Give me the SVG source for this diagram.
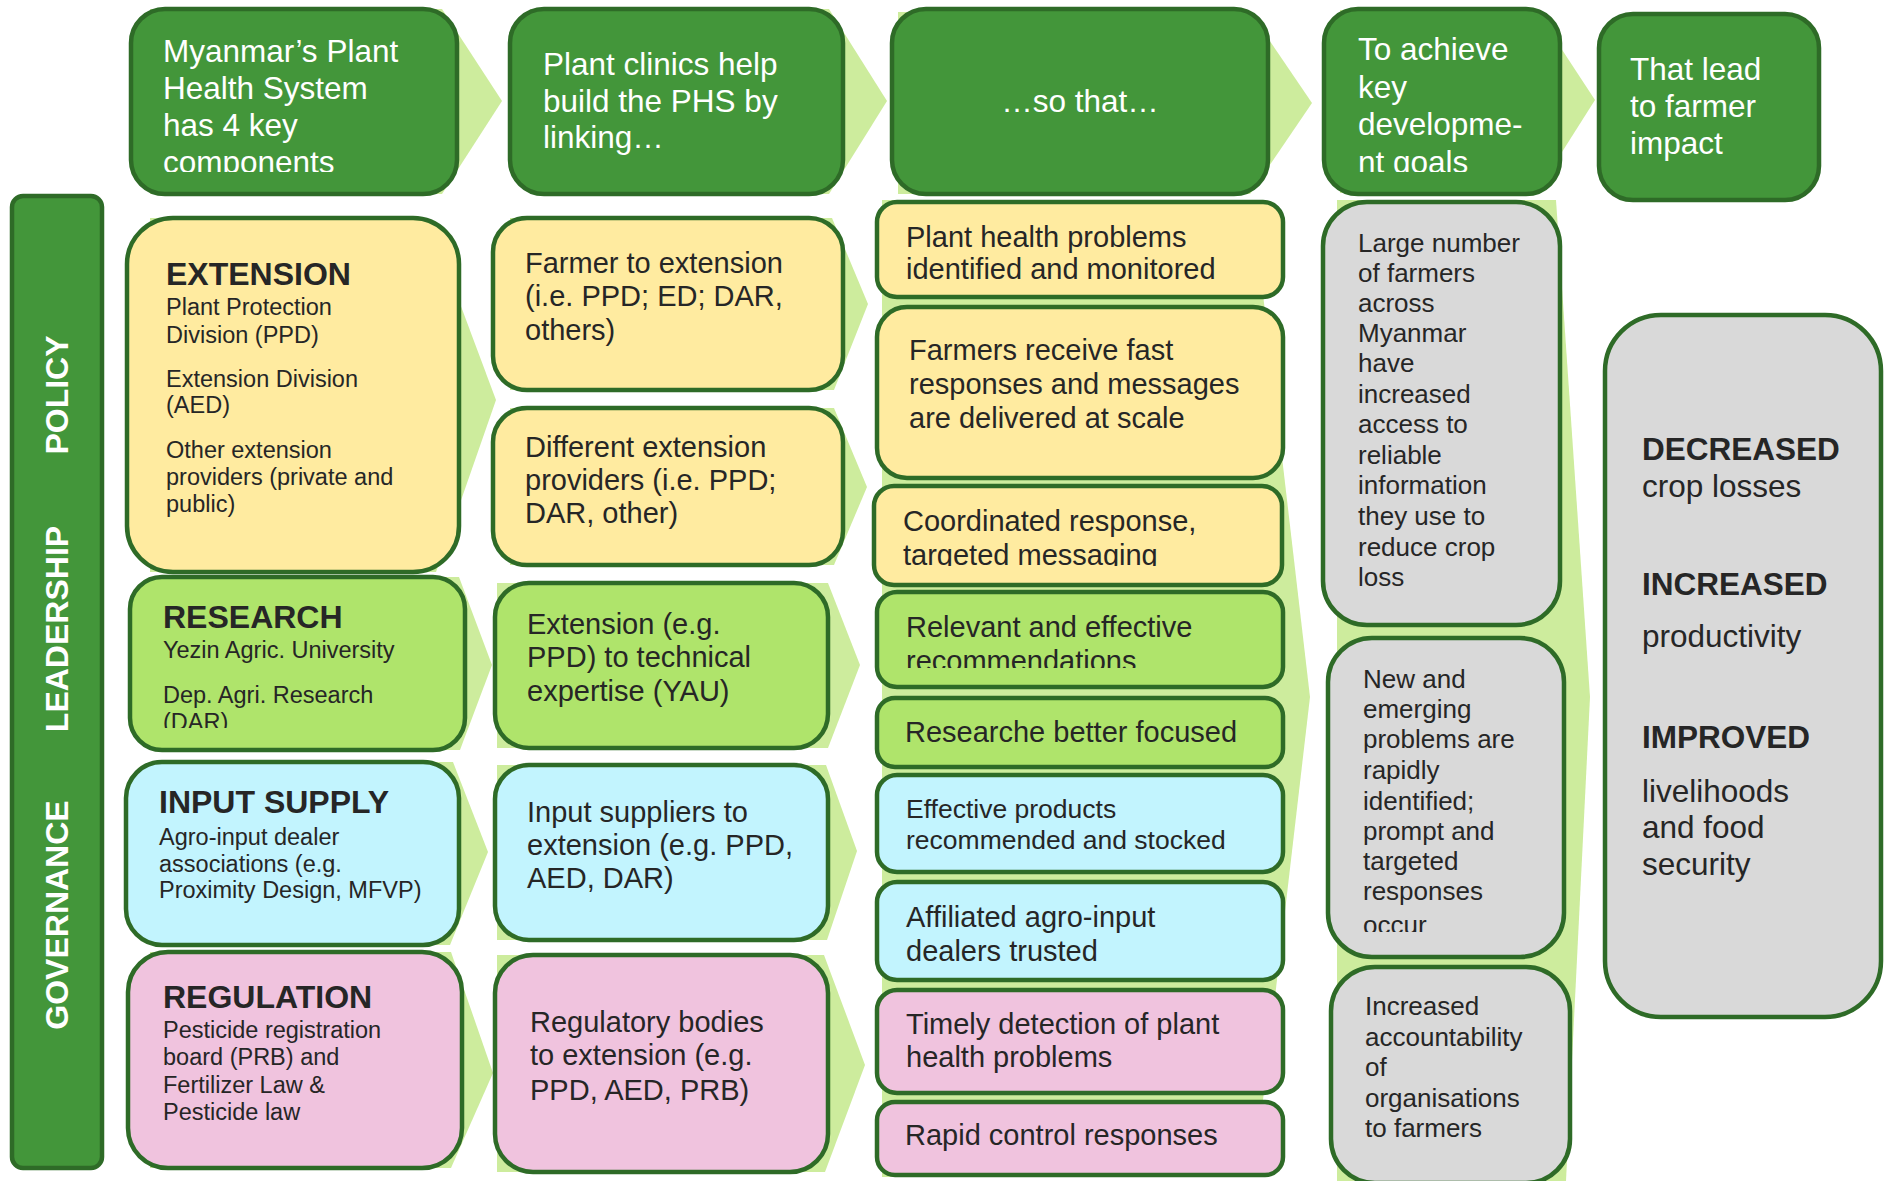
<svg xmlns="http://www.w3.org/2000/svg" width="1892" height="1181" viewBox="0 0 1892 1181">
<style>
text{font-family:"Liberation Sans",Arial,sans-serif;}
.chev{fill:#CDEC9D;}
.bx{stroke:#2E6B27;stroke-width:4.5;}
.hdr{fill:#43963A;}
.bar{fill:#43963A;}
.yel{fill:#FFEBA0;}
.lg{fill:#AFE46B;}
.cy{fill:#C2F4FE;}
.pk{fill:#F0C3DE;}
.gr{fill:#D9D9D9;}
.w{fill:#FFFFFF;font-size:31.5px;}
.vt{fill:#FFFFFF;font-size:32px;font-weight:bold;}
.b{fill:#262626;font-size:32px;font-weight:bold;}
.s{fill:#262626;font-size:23.5px;}
.m{fill:#262626;font-size:29px;}
.g{fill:#262626;font-size:26px;}
.ob{fill:#262626;font-size:31.5px;font-weight:bold;}
.or{fill:#262626;font-size:31.5px;}
</style>
<defs>
<clipPath id="cH1"><rect x="131" y="9" width="326" height="163"/></clipPath>
<clipPath id="cH4"><rect x="1324" y="9" width="236" height="163"/></clipPath>
<clipPath id="cRes"><rect x="130" y="577" width="335" height="151"/></clipPath>
<clipPath id="cCoord"><rect x="874" y="486" width="408" height="80"/></clipPath>
<clipPath id="cRel"><rect x="877" y="592" width="406" height="76"/></clipPath>
<clipPath id="cNew"><rect x="1328" y="638" width="236" height="294"/></clipPath>
</defs>

<g id="connectors">
<polygon class="chev" points="150,9 442,9 502,101 442,194 150,194"/>
<polygon class="chev" points="530,9 829,9 887,101 829,194 530,194"/>
<polygon class="chev" points="898,12 1250,12 1312,103 1250,194 898,194"/>
<polygon class="chev" points="1340,10 1536,10 1595,100 1536,193 1340,193"/>
<polygon class="chev" points="150,218 428,218 496,400 436,572 150,572"/>
<polygon class="chev" points="150,577 459,577 492,665 460,750 150,750"/>
<polygon class="chev" points="150,762 453,762 488,852 450,945 150,945"/>
<polygon class="chev" points="150,952 451,952 493,1073 451,1168 150,1168"/>
<polygon class="chev" points="510,218 832,218 868,304 834,390 510,390"/>
<polygon class="chev" points="510,408 834,408 867,487 834,565 510,565"/>
<polygon class="chev" points="497,583 828,583 860,665 828,748 497,748"/>
<polygon class="chev" points="497,765 826,765 857,851 827,940 497,940"/>
<polygon class="chev" points="497,955 824,955 865,1065 825,1172 497,1172"/>
<polygon class="chev" points="882,200 1252,200 1310,697 1254,1177 882,1177"/>
<polygon class="chev" points="1337,200 1556,200 1590,697 1566,1181 1337,1181"/>
</g>

<g id="bar">
<rect class="bx bar" x="12" y="196" width="90" height="972" rx="11"/>
<text class="vt" transform="translate(68,395) rotate(-90)" text-anchor="middle">POLICY</text>
<text class="vt" transform="translate(68,629) rotate(-90)" text-anchor="middle">LEADERSHIP</text>
<text class="vt" transform="translate(68,915) rotate(-90)" text-anchor="middle">GOVERNANCE</text>
</g>

<g id="h1">
<rect class="bx hdr" x="131" y="9" width="326" height="185" rx="34"/>
<g clip-path="url(#cH1)">
<text class="w" x="163" y="62">Myanmar’s Plant</text>
<text class="w" x="163" y="99">Health System</text>
<text class="w" x="163" y="136">has 4 key</text>
<text class="w" x="163" y="173">components</text>
</g>
</g>
<g id="h2">
<rect class="bx hdr" x="510" y="9" width="333" height="185" rx="34"/>
<text class="w" x="543" y="75">Plant clinics help</text>
<text class="w" x="543" y="112">build the PHS by</text>
<text class="w" x="543" y="148">linking…</text>
</g>
<g id="h3">
<rect class="bx hdr" x="892" y="9" width="376" height="185" rx="34"/>
<text class="w" x="1080" y="112" text-anchor="middle">…so that…</text>
</g>
<g id="h4">
<rect class="bx hdr" x="1324" y="9" width="236" height="185" rx="34"/>
<g clip-path="url(#cH4)">
<text class="w" x="1358" y="60">To achieve</text>
<text class="w" x="1358" y="98">key</text>
<text class="w" x="1358" y="135">developme-</text>
<text class="w" x="1358" y="173">nt goals</text>
</g>
</g>
<g id="h5">
<rect class="bx hdr" x="1599" y="14" width="220" height="186" rx="34"/>
<text class="w" x="1630" y="80">That lead</text>
<text class="w" x="1630" y="117">to farmer</text>
<text class="w" x="1630" y="154">impact</text>
</g>

<g id="extension">
<rect class="bx yel" x="127" y="218" width="332" height="354" rx="46"/>
<text class="b" x="166" y="285">EXTENSION</text>
<text class="s" x="166" y="315">Plant Protection</text>
<text class="s" x="166" y="343">Division (PPD)</text>
<text class="s" x="166" y="387">Extension Division</text>
<text class="s" x="166" y="413">(AED)</text>
<text class="s" x="166" y="458">Other extension</text>
<text class="s" x="166" y="485">providers (private and</text>
<text class="s" x="166" y="512">public)</text>
</g>
<g id="research">
<rect class="bx lg" x="130" y="577" width="335" height="173" rx="32"/>
<text class="b" x="163" y="628">RESEARCH</text>
<text class="s" x="163" y="658">Yezin Agric. University</text>
<g clip-path="url(#cRes)">
<text class="s" x="163" y="703">Dep. Agri. Research</text>
<text class="s" x="163" y="730">(DAR)</text>
</g>
</g>
<g id="input">
<rect class="bx cy" x="126" y="762" width="333" height="183" rx="36"/>
<text class="b" x="159" y="813">INPUT SUPPLY</text>
<text class="s" x="159" y="845">Agro-input dealer</text>
<text class="s" x="159" y="872">associations (e.g.</text>
<text class="s" x="159" y="898">Proximity Design, MFVP)</text>
</g>
<g id="regulation">
<rect class="bx pk" x="128" y="952" width="334" height="216" rx="40"/>
<text class="b" x="163" y="1008">REGULATION</text>
<text class="s" x="163" y="1038">Pesticide registration</text>
<text class="s" x="163" y="1065">board (PRB) and</text>
<text class="s" x="163" y="1093">Fertilizer Law &amp;</text>
<text class="s" x="163" y="1120">Pesticide law</text>
</g>

<g id="l1">
<rect class="bx yel" x="493" y="218" width="350" height="172" rx="34"/>
<text class="m" x="525" y="273">Farmer to extension</text>
<text class="m" x="525" y="306">(i.e. PPD; ED; DAR,</text>
<text class="m" x="525" y="340">others)</text>
</g>
<g id="l2">
<rect class="bx yel" x="493" y="408" width="350" height="157" rx="34"/>
<text class="m" x="525" y="457">Different extension</text>
<text class="m" x="525" y="490">providers (i.e. PPD;</text>
<text class="m" x="525" y="523">DAR, other)</text>
</g>
<g id="l3">
<rect class="bx lg" x="495" y="583" width="333" height="165" rx="34"/>
<text class="m" x="527" y="634">Extension (e.g.</text>
<text class="m" x="527" y="667">PPD) to technical</text>
<text class="m" x="527" y="701">expertise (YAU)</text>
</g>
<g id="l4">
<rect class="bx cy" x="495" y="765" width="333" height="175" rx="34"/>
<text class="m" x="527" y="822">Input suppliers to</text>
<text class="m" x="527" y="855">extension (e.g. PPD,</text>
<text class="m" x="527" y="888">AED, DAR)</text>
</g>
<g id="l5">
<rect class="bx pk" x="495" y="955" width="333" height="217" rx="38"/>
<text class="m" x="530" y="1032">Regulatory bodies</text>
<text class="m" x="530" y="1065">to extension (e.g.</text>
<text class="m" x="530" y="1100">PPD, AED, PRB)</text>
</g>

<g id="o1">
<rect class="bx yel" x="877" y="202" width="406" height="95" rx="20"/>
<text class="m" x="906" y="247">Plant health problems</text>
<text class="m" x="906" y="279">identified and monitored</text>
</g>
<g id="o2">
<rect class="bx yel" x="877" y="307" width="406" height="171" rx="30"/>
<text class="m" x="909" y="360">Farmers receive fast</text>
<text class="m" x="909" y="394">responses and messages</text>
<text class="m" x="909" y="428">are delivered at scale</text>
</g>
<g id="o3">
<rect class="bx yel" x="874" y="486" width="408" height="99" rx="20"/>
<g clip-path="url(#cCoord)">
<text class="m" x="903" y="531">Coordinated response,</text>
<text class="m" x="903" y="565">targeted messaging</text>
</g>
</g>
<g id="o4">
<rect class="bx lg" x="877" y="592" width="406" height="95" rx="20"/>
<g clip-path="url(#cRel)">
<text class="m" x="906" y="637">Relevant and effective</text>
<text class="m" x="906" y="671">recommendations</text>
</g>
</g>
<g id="o5">
<rect class="bx lg" x="877" y="698" width="406" height="69" rx="18"/>
<text class="m" x="905" y="742">Researche better focused</text>
</g>
<g id="o6">
<rect class="bx cy" x="877" y="775" width="406" height="97" rx="20"/>
<text class="m" x="906" y="818" style="font-size:26.5px">Effective products</text>
<text class="m" x="906" y="849" style="font-size:26.5px">recommended and stocked</text>
</g>
<g id="o7">
<rect class="bx cy" x="877" y="882" width="406" height="98" rx="20"/>
<text class="m" x="906" y="927">Affiliated agro-input</text>
<text class="m" x="906" y="961">dealers trusted</text>
</g>
<g id="o8">
<rect class="bx pk" x="877" y="990" width="406" height="103" rx="20"/>
<text class="m" x="906" y="1034">Timely detection of plant</text>
<text class="m" x="906" y="1067">health problems</text>
</g>
<g id="o9">
<rect class="bx pk" x="877" y="1102" width="406" height="73" rx="18"/>
<text class="m" x="905" y="1145">Rapid control responses</text>
</g>

<g id="g1">
<rect class="bx gr" x="1323" y="202" width="237" height="423" rx="44"/>
<text class="g" x="1358" y="252">Large number</text>
<text class="g" x="1358" y="282">of farmers</text>
<text class="g" x="1358" y="312">across</text>
<text class="g" x="1358" y="342">Myanmar</text>
<text class="g" x="1358" y="372">have</text>
<text class="g" x="1358" y="403">increased</text>
<text class="g" x="1358" y="433">access to</text>
<text class="g" x="1358" y="464">reliable</text>
<text class="g" x="1358" y="494">information</text>
<text class="g" x="1358" y="525">they use to</text>
<text class="g" x="1358" y="556">reduce crop</text>
<text class="g" x="1358" y="586">loss</text>
</g>
<g id="g2">
<rect class="bx gr" x="1328" y="638" width="236" height="319" rx="44"/>
<g clip-path="url(#cNew)">
<text class="g" x="1363" y="688">New and</text>
<text class="g" x="1363" y="718">emerging</text>
<text class="g" x="1363" y="748">problems are</text>
<text class="g" x="1363" y="779">rapidly</text>
<text class="g" x="1363" y="810">identified;</text>
<text class="g" x="1363" y="840">prompt and</text>
<text class="g" x="1363" y="870">targeted</text>
<text class="g" x="1363" y="900">responses</text>
<text class="g" x="1363" y="934">occur</text>
</g>
</g>
<g id="g3">
<rect class="bx gr" x="1331" y="967" width="239" height="216" rx="44"/>
<text class="g" x="1365" y="1015">Increased</text>
<text class="g" x="1365" y="1046">accountability</text>
<text class="g" x="1365" y="1076">of</text>
<text class="g" x="1365" y="1107">organisations</text>
<text class="g" x="1365" y="1137">to farmers</text>
</g>

<g id="impact">
<rect class="bx gr" x="1605" y="315" width="276" height="702" rx="56"/>
<text class="ob" x="1642" y="460">DECREASED</text>
<text class="or" x="1642" y="497">crop losses</text>
<text class="ob" x="1642" y="595">INCREASED</text>
<text class="or" x="1642" y="647">productivity</text>
<text class="ob" x="1642" y="748">IMPROVED</text>
<text class="or" x="1642" y="802">livelihoods</text>
<text class="or" x="1642" y="838">and food</text>
<text class="or" x="1642" y="875">security</text>
</g>
</svg>
